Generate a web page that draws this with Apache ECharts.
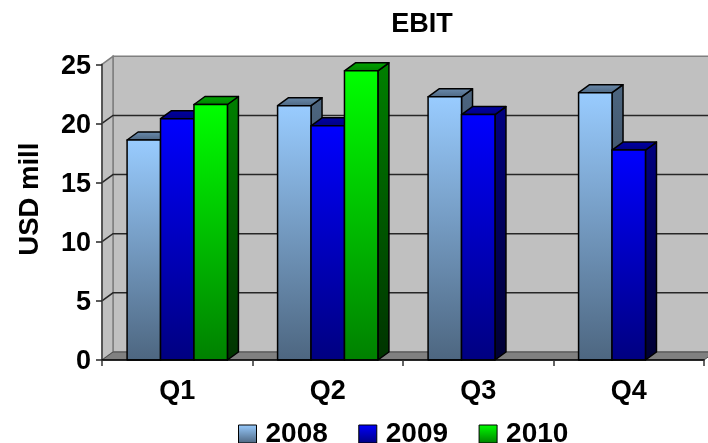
<!DOCTYPE html>
<html>
<head>
<meta charset="utf-8">
<style>html,body{margin:0;padding:0;background:#fff}#c{width:708px;height:443px}</style>
<script src="https://cdn.jsdelivr.net/npm/echarts@6/dist/echarts.min.js"></script>
</head>
<body>
<div id="c"></div>
<script>
// EBIT per quarter, USD mill
const quarters = ['Q1', 'Q2', 'Q3', 'Q4'];
const years = ['2008', '2009', '2010'];
const ebit2008 = [18.6, 21.5, 22.25, 22.6];
const ebit2009 = [20.4, 19.8, 20.75, 17.75];
const ebit2010 = [21.6, 24.45, null, null];
const yTicks = [0, 5, 10, 15, 20, 25];

// Face shades per year: front top/bottom, roof top/bottom, side top/bottom
const shades = [
  { front: ['#99ccff', '#4d6680'], roof: ['#6b8cae', '#4d6680'], side: ['#4d6680', '#26333f'] },
  { front: ['#0000ff', '#000080'], roof: ['#0000a6', '#000080'], side: ['#000080', '#000033'] },
  { front: ['#00ff00', '#008000'], roof: ['#00a600', '#008000'], side: ['#008000', '#003300'] }
];

// Oblique offset of the 3D box
const DX = 11, DY = -8;
const FONT = '"Liberation Sans", Arial, sans-serif';

const vGrad = (a, b) => ({ type: 'linear', x: 0, y: 0, x2: 0, y2: 1,
  colorStops: [{ offset: 0, color: a }, { offset: 1, color: b }] });

// Walls, floor and gridlines of the 3D box, placed from the value axis
function renderWalls(params, api) {
  const cs = params.coordSys;
  const l = cs.x, r = cs.x + cs.width, t = cs.y, b = cs.y + cs.height;
  const edge = { stroke: '#7f7f7f', lineWidth: 1.5 };
  const children = [
    { type: 'polygon', shape: { points: [[l + DX, t + DY], [r + DX, t + DY], [r + DX, b + DY], [l + DX, b + DY]] },
      style: Object.assign({ fill: '#c0c0c0' }, edge) },
    { type: 'polygon', shape: { points: [[l, t], [l + DX, t + DY], [l + DX, b + DY], [l, b]] },
      style: Object.assign({ fill: '#c0c0c0' }, edge) },
    { type: 'polygon', shape: { points: [[l, b], [l + DX, b + DY], [r + DX, b + DY], [r, b]] },
      style: { fill: '#808080', stroke: '#4d4d4d', lineWidth: 1 } }
  ];
  yTicks.forEach(v => {
    const y = api.coord([0, v])[1];
    if (v > 0 && v < 25) {
      children.push({ type: 'polyline', shape: { points: [[l, y], [l + DX, y + DY], [r + DX, y + DY]] },
        style: { fill: null, stroke: '#262626', lineWidth: 1.5 } });
    }
  });
  return { type: 'group', children };
}

// One 3D bar: front face plus roof and side faces
function barRenderer(seriesIndex) {
  return function (params, api) {
    const v = api.value(1);
    if (v == null || isNaN(v)) return null;
    const idx = api.value(0);
    const catW = api.size([1, 0])[0];
    const w = catW * 2 / 9;
    const top = api.coord([idx, v]);
    const base = api.coord([idx, 0]);
    const x0 = top[0] - 1.5 * w + seriesIndex * w;
    const x1 = x0 + w;
    const yT = top[1], yB = base[1];
    const c = shades[seriesIndex];
    const line = { stroke: '#000', lineWidth: 1.5, lineJoin: 'round' };
    return { type: 'group', children: [
      { type: 'polygon', shape: { points: [[x1, yT], [x1 + DX, yT + DY], [x1 + DX, yB + DY], [x1, yB]] },
        style: Object.assign({ fill: vGrad(c.side[0], c.side[1]) }, line) },
      { type: 'polygon', shape: { points: [[x0, yT], [x0 + DX, yT + DY], [x1 + DX, yT + DY], [x1, yT]] },
        style: Object.assign({ fill: vGrad(c.roof[0], c.roof[1]) }, line) },
      { type: 'polygon', shape: { points: [[x0, yT], [x1, yT], [x1, yB], [x0, yB]] },
        style: Object.assign({ fill: vGrad(c.front[0], c.front[1]) }, line) }
    ] };
  };
}

const seriesValues = [ebit2008, ebit2009, ebit2010];
const chart = echarts.init(document.getElementById('c'), null, { renderer: 'canvas' });
chart.setOption({
  animation: false,
  title: {
    text: 'EBIT', left: 417, top: 6, textAlign: 'center',
    textStyle: { fontFamily: FONT, fontSize: 27, fontWeight: 'bold', color: '#000' }
  },
  legend: {
    data: years.map((y, i) => ({ name: y, icon: 'rect',
      itemStyle: { color: vGrad(shades[i].front[0], shades[i].front[1]), borderColor: '#000', borderWidth: 1 } })),
    left: 233, top: 415, itemWidth: 18, itemHeight: 18, itemGap: 30.5, selectedMode: false,
    textStyle: { fontFamily: FONT, fontSize: 28, fontWeight: 'bold', color: '#000', padding: [0, 0, 0, 4] }
  },
  grid: { left: 102, right: 4, top: 64.3, bottom: 83 },
  xAxis: {
    type: 'category', data: quarters, z: 10,
    axisLine: { lineStyle: { color: '#000', width: 1.5 } },
    axisTick: { show: true, length: 6, lineStyle: { color: '#333', width: 1.5 } },
    axisLabel: { fontFamily: FONT, fontSize: 27, fontWeight: 'bold', color: '#000', margin: 18 }
  },
  yAxis: {
    type: 'value', min: 0, max: 25, interval: 5, z: 10,
    name: 'USD mill', nameLocation: 'middle', nameGap: 58,
    nameTextStyle: { fontFamily: FONT, fontSize: 27.5, fontWeight: 'bold', color: '#000', padding: [0, 0, 0, 26] },
    axisLine: { show: true, lineStyle: { color: '#404040', width: 1.5 } },
    axisTick: { show: true, length: 6, lineStyle: { color: '#262626', width: 1.5 } },
    axisLabel: {
      margin: 11,
      formatter: '{n|{value}}',
      rich: { n: { fontFamily: FONT, fontSize: 27, fontWeight: 'bold', color: '#000', padding: [4, 0, 0, 0] } }
    },
    splitLine: { show: false }
  },
  series: [
    { type: 'custom', name: 'walls', coordinateSystem: 'cartesian2d', silent: true, z: 1,
      data: [[0, 0]], encode: { x: 0, y: 1 }, renderItem: renderWalls },
    ...years.map((y, i) => ({
      type: 'custom', name: y, coordinateSystem: 'cartesian2d', z: 2 + i,
      encode: { x: 0, y: 1 },
      data: seriesValues[i].map((v, q) => [q, v]),
      renderItem: barRenderer(i)
    }))
  ]
});
</script>
</body>
</html>
